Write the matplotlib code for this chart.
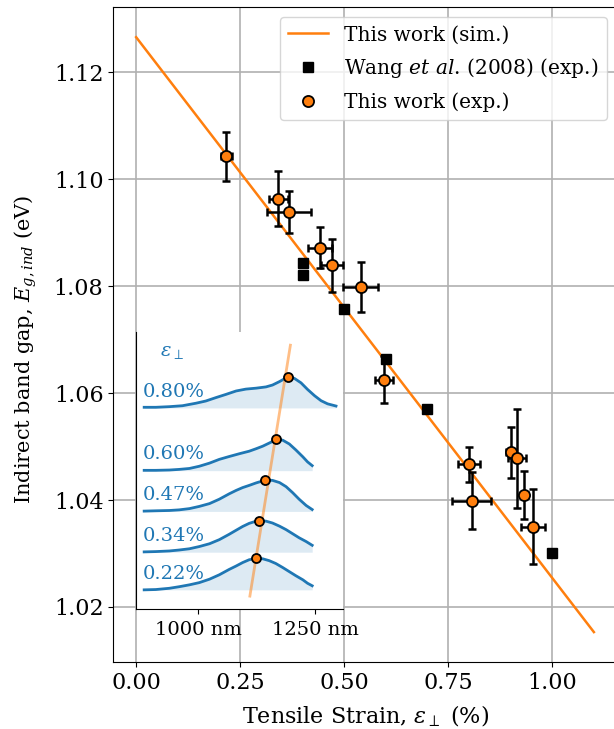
import numpy as np
import matplotlib
matplotlib.use("Agg")
import matplotlib.pyplot as plt

plt.rcParams['font.family'] = ['DejaVu Serif']
plt.rcParams['mathtext.fontset'] = 'dejavuserif'

# simulated band gap vs strain (linear)
strain_sim = [0.0, 1.1]
eg_sim = [1.1266, 1.0153]

# Wang et al. (2008)
wang_strain = [0.40, 0.40, 0.50, 0.60, 0.70, 1.00]
wang_eg = [1.0844, 1.0822, 1.0758, 1.0663, 1.0570, 1.0301]

# this work, PL measurements
exp_strain = [0.217, 0.342, 0.368, 0.442, 0.471, 0.540, 0.596, 0.800, 0.806, 0.900, 0.916, 0.933, 0.954]
exp_strain_err = [0.014, 0.022, 0.053, 0.029, 0.027, 0.042, 0.022, 0.026, 0.047, 0.011, 0.022, 0.008, 0.029]
exp_eg = [1.1043, 1.0964, 1.0939, 1.0872, 1.0839, 1.0799, 1.0625, 1.0467, 1.0399, 1.0489, 1.0478, 1.0410, 1.0350]
exp_eg_err = [0.0046, 0.0052, 0.0040, 0.0038, 0.0050, 0.0047, 0.0044, 0.0033, 0.0054, 0.0048, 0.0093, 0.0045, 0.0070]

# normalised PL spectra for the inset (wavelength in nm, height above baseline)
spec_strain = [0.22, 0.34, 0.47, 0.60, 0.80]
spec_labels = ['0.22%', '0.34%', '0.47%', '0.60%', '0.80%']
spec_peak_eg = [1.1043, 1.0964, 1.0839, 1.0625, 1.0399]

lam_22 = [884, 909, 938, 959, 981, 1002, 1024, 1045, 1066, 1081, 1095, 1109, 1124,
          1138, 1152, 1166, 1181, 1195, 1209, 1224, 1234, 1244]
pl_22 = [0.000, 0.001, 0.005, 0.010, 0.016, 0.023, 0.034, 0.048, 0.065, 0.076, 0.087, 0.096, 0.100,
         0.099, 0.093, 0.084, 0.071, 0.058, 0.045, 0.032, 0.021, 0.013]

lam_34 = [884, 909, 938, 959, 981, 1002, 1024, 1045, 1066, 1081, 1095, 1109, 1124, 1132,
          1145, 1159, 1174, 1188, 1202, 1216, 1231, 1244]
pl_34 = [0.001, 0.002, 0.004, 0.007, 0.011, 0.018, 0.027, 0.040, 0.057, 0.070, 0.082, 0.092, 0.099, 0.100,
         0.099, 0.093, 0.083, 0.072, 0.059, 0.046, 0.034, 0.022]

lam_47 = [884, 909, 938, 959, 981, 1002, 1024, 1045, 1066, 1081, 1095, 1109, 1124, 1144,
          1159, 1174, 1188, 1202, 1216, 1231, 1244]
pl_47 = [0.001, 0.002, 0.003, 0.005, 0.009, 0.016, 0.025, 0.039, 0.056, 0.067, 0.076, 0.083, 0.091, 0.100,
         0.099, 0.092, 0.079, 0.060, 0.039, 0.019, 0.006]

lam_60 = [884, 909, 938, 959, 981, 1002, 1024, 1045, 1066, 1088, 1109, 1124, 1138, 1152,
          1168, 1181, 1195, 1209, 1224, 1234, 1244]
pl_60 = [0.001, 0.001, 0.002, 0.004, 0.007, 0.014, 0.024, 0.036, 0.045, 0.054, 0.062, 0.070, 0.078, 0.088,
         0.100, 0.097, 0.085, 0.066, 0.044, 0.028, 0.016]

lam_80 = [884, 909, 938, 966, 995, 1016, 1038, 1059, 1081, 1102, 1124, 1145, 1159, 1174,
          1193, 1206, 1220, 1234, 1249, 1263, 1277, 1295]
pl_80 = [0.002, 0.002, 0.004, 0.007, 0.015, 0.022, 0.033, 0.043, 0.054, 0.060, 0.063, 0.067, 0.073, 0.084,
         0.100, 0.094, 0.080, 0.059, 0.039, 0.023, 0.013, 0.006]

spec_lam = [lam_22, lam_34, lam_47, lam_60, lam_80]
spec_pl = [pl_22, pl_34, pl_47, pl_60, pl_80]

fig = plt.figure(figsize=(6.14, 7.29), dpi=100)
ax = fig.add_axes([0.1845, 0.0919, 0.8200, 0.8981])

ax.plot(strain_sim, eg_sim, color='C1', lw=1.8, label='This work (sim.)', zorder=2)
ax.plot(wang_strain, wang_eg, 's', color='black', ms=7, label=r'Wang $\it{et\ al}$. (2008) (exp.)', zorder=3)
ax.errorbar(exp_strain, exp_eg, xerr=exp_strain_err, yerr=exp_eg_err, fmt='none',
            ecolor='black', elinewidth=1.8, capsize=3, capthick=1.8, zorder=4)
ax.plot(exp_strain, exp_eg, 'o', color='C1', mec='black', mew=1.3, ms=8,
        label='This work (exp.)', zorder=5)

ax.set_xlim(-0.055, 1.155)
ax.set_ylim(1.0097, 1.1322)
ax.set_xticks([0.0, 0.25, 0.5, 0.75, 1.0])
ax.set_yticks([1.02, 1.04, 1.06, 1.08, 1.10, 1.12])
ax.set_xticklabels(['0.00', '0.25', '0.50', '0.75', '1.00'])
ax.set_yticklabels(['1.02', '1.04', '1.06', '1.08', '1.10', '1.12'])
ax.tick_params(labelsize=16)
ax.grid(True, color='#b0b0b0', lw=1.2)
ax.set_axisbelow(True)
ax.set_xlabel(r'Tensile Strain, $\varepsilon_\perp$ (%)', fontsize=16, labelpad=7)
ax.set_ylabel(r'Indirect band gap, $E_{g,ind}$ (eV)', fontsize=15)
ax.yaxis.set_label_coords(-0.148, 0.477)
ax.legend(loc='upper right', fontsize=14.5, framealpha=0.8, labelspacing=0.6)

# inset: PL spectra stacked by strain
axin = fig.add_axes([0.2215, 0.1642, 0.3379, 0.3808])
for s, lab, lam, pl in zip(spec_strain, spec_labels, spec_lam, spec_pl):
    pl = np.array(pl)
    axin.fill_between(lam, s, s + pl, color='C0', alpha=0.15, lw=0)
    axin.plot(lam, s + pl, color='C0', lw=2, solid_joinstyle='round')
    axin.text(882, s + 0.036, lab, color='C0', fontsize=14, va='baseline')

# simulated gap converted to emission wavelength
line_strain = np.array([0.1, 0.9])
line_eg = np.interp(line_strain, strain_sim, eg_sim)
axin.plot(1239.84 / line_eg, line_strain + 0.1, color='C1', alpha=0.5, lw=2, zorder=3)
axin.plot(1239.84 / np.array(spec_peak_eg), np.array(spec_strain) + 0.1, 'o',
          color='C1', mec='black', mew=1.3, ms=6.5, zorder=4)
axin.text(918, 0.978, r'$\varepsilon_\perp$', color='C0', fontsize=14, va='center')

axin.set_xlim(866.5, 1311)
axin.set_ylim(0.158, 1.043)
axin.set_xticks([1000, 1250])
axin.set_xticklabels(['1000 nm', '1250 nm'])
axin.set_yticks([])
axin.tick_params(labelsize=14, pad=5)
for side in ['top', 'right']:
    axin.spines[side].set_visible(False)

fig.savefig('out.png', dpi=100)
